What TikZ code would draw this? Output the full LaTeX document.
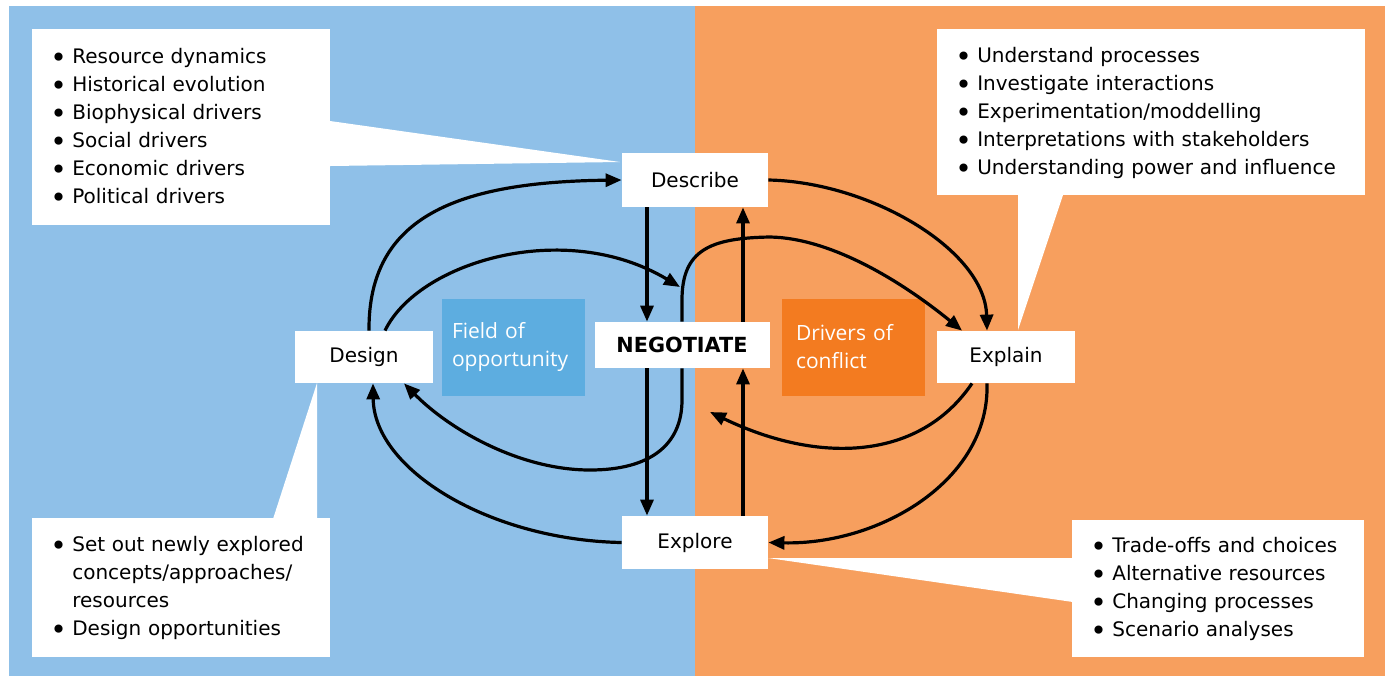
\documentclass[tikz,border=0pt]{standalone}
\usepackage{fontspec}
\setmainfont{DejaVu Sans}
\newfontfamily\zonefont{Open Sans}
\usetikzlibrary{arrows.meta,positioning}
\definecolor{leftblue}{RGB}{143,192,232}
\definecolor{rightorange}{RGB}{247,159,94}
\definecolor{fieldblue}{RGB}{93,173,224}
\definecolor{driverorange}{RGB}{243,123,32}
\newcommand{\listdot}{\raisebox{-2.1pt}{\fontsize{14}{14}\selectfont\textbullet}}
\newcommand{\itemlist}[1]{\begin{tabular}{@{}l@{\hspace{2.7pt}}l@{}}#1\end{tabular}}

\begin{document}
\begin{tikzpicture}[x=0.5pt,y=-0.5pt,
  font=\fontsize{10}{14}\selectfont,
  stage/.style={fill=white,inner sep=0pt,minimum width=#1,minimum height=26pt},
  listbox/.style 2 args={fill=white,anchor=north west,align=left,inner xsep=9pt,inner ysep=0pt,
    minimum width=#1,text width=#1-18pt,minimum height=#2},
  zone/.style 2 args={fill=#1,text=white,inner xsep=#2,inner ysep=0pt,minimum width=71.5pt,
    text width=71.5pt-2*#2,minimum height=48.5pt,align=left,font=\zonefont\fontsize{10.5}{14}\selectfont},
  flow/.style={line width=1.6pt,-{Triangle[length=8pt,width=6.5pt]}}]
  \useasboundingbox (0,0) rectangle (1389,677);
  \fill[white] (0,0) rectangle (1389,677);
  \fill[leftblue] (9,6) rectangle (695,676);
  \fill[rightorange] (695,6) rectangle (1385,676);

  % callout wedges
  \fill[white] (330,121) -- (620,162) -- (330,166) -- cycle;
  \fill[white] (1018,195) -- (1063,195) -- (1018,330) -- cycle;
  \fill[white] (317,383) -- (317,519) -- (273,519) -- cycle;
  \fill[white] (768,558) -- (1073,558) -- (1073,602) -- cycle;

  % lists
  \node[listbox={149pt}{98pt}] (describelist) at (32,29) {\itemlist{
    \listdot & Resource dynamics\\ \listdot & Historical evolution\\
    \listdot & Biophysical drivers\\ \listdot & Social drivers\\
    \listdot & Economic drivers\\ \listdot & Political drivers}};
  \node[listbox={214pt}{83pt}] (explainlist) at (937,29) {\itemlist{
    \listdot & Understand processes\\ \listdot & Investigate interactions\\
    \listdot & Experimentation/moddelling\\ \listdot & Interpretations with stakeholders\\
    \listdot & Understanding power and influence}};
  \node[listbox={149pt}{69.5pt}] (designlist) at (32,518) {\itemlist{
    \listdot & Set out newly explored\\ & concepts/approaches/\\ & resources\\
    \listdot & Design opportunities}};
  \node[listbox={146pt}{68.5pt}] (explorelist) at (1072,520) {\itemlist{
    \listdot & Trade-offs and choices\\ \listdot & Alternative resources\\
    \listdot & Changing processes\\ \listdot & Scenario analyses}};

  % zones
  \node[zone={fieldblue}{5pt}] (field) at (513.5,347) {Field of\\opportunity};
  \node[zone={driverorange}{7pt}] (drivers) at (853.5,347) {Drivers of\\conflict};

  % stages
  \node[stage=73pt,minimum height=27pt] (describe) at (695,180) {Describe};
  \node[stage=73pt,minimum height=26.5pt] (explore) at (695,542.5) {Explore};
  \node[stage=69pt] (design) at (364,357) {Design};
  \node[stage=69pt] (explain) at (1006,357) {Explain};
  \node[stage=87.5pt,minimum height=23pt,font=\bfseries\fontsize{10.4}{14}\selectfont] (negotiate) at (682,345) {NEGOTIATE};

  \coordinate (negabove) at (680,287);
  \coordinate (negbelow) at (710,412);

  % straight flows
  \draw[flow] (647,0 |- describe.south) -- (647,0 |- negotiate.north);
  \draw[flow] (647,0 |- negotiate.south) -- (647,0 |- explore.north);
  \draw[flow] (743,0 |- explore.north) -- (743,0 |- negotiate.south);
  \draw[flow] (743,0 |- negotiate.north) -- (743,0 |- describe.south);

  % curved flows
  \draw[flow] (369,0 |- design.north) .. controls (368,215) and (460,182) .. (describe.west);
  \draw[flow] (385,0 |- design.north) .. controls (418,262) and (565,218) .. (negabove);
  \draw[flow] (682,0 |- negotiate.north) -- (682,300) .. controls (682,250) and (710,238) .. (770,237)
    .. controls (830,238) and (900,280) .. (962,0 |- explain.north);
  \draw[flow] (682,0 |- negotiate.south) -- (682,400) .. controls (682,445) and (650,470) .. (590,470)
    .. controls (520,470) and (450,430) .. (404,0 |- design.south);
  \draw[flow] (describe.east) .. controls (870,182) and (985,250) .. (987,0 |- explain.north);
  \draw[flow] (987,0 |- explain.south) .. controls (990,480) and (880,545) .. (explore.east);
  \draw[flow] (972,0 |- explain.south) .. controls (920,460) and (820,465) .. (negbelow);
  \draw[flow] (explore.west) .. controls (490,540) and (374,470) .. (373,0 |- design.south);
\end{tikzpicture}
\end{document}
